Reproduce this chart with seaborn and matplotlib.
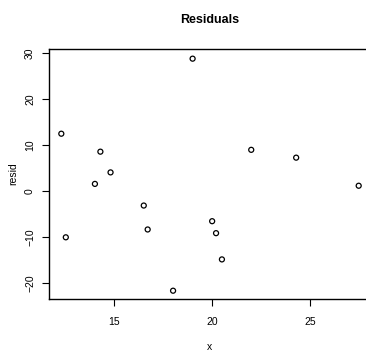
import matplotlib
matplotlib.use("Agg")
import matplotlib.pyplot as plt
import seaborn as sns
import pandas as pd

x_vals = [12.28, 12.51, 14.0, 14.28, 14.8, 16.5, 16.7, 18.0, 19.0, 20.0, 20.2, 20.5, 22.0, 24.3, 27.5]
resid_vals = [12.5, -10.0, 1.6, 8.6, 4.1, -3.1, -8.3, -21.6, 28.8, -6.5, -9.1, -14.8, 9.0, 7.3, 1.2]
x_ticks = [15, 20, 25]
y_ticks = [-20, -10, 0, 10, 20, 30]

sns.set_style("ticks")
plt.rcParams['font.family'] = ['Liberation Sans', 'DejaVu Sans']
plt.rcParams['text.color'] = 'black'
plt.rcParams['axes.labelcolor'] = 'black'
plt.rcParams['xtick.color'] = 'black'
plt.rcParams['ytick.color'] = 'black'

df = pd.DataFrame({"x": x_vals, "resid": resid_vals})

fig = plt.figure(figsize=(3.66, 3.55), dpi=100)
W, H = 366, 355
left, right, top, bottom = 49, 371, 49, 299
ax = fig.add_axes([left / W, (H - bottom) / H, (right - left) / W, (bottom - top) / H])

sns.scatterplot(data=df, x="x", y="resid", ax=ax, marker="o", s=13,
                facecolors="none", edgecolor="black", linewidth=0.9)

ax.set_xlim(11.65, 28.13)
ax.set_ylim(-23.4, 30.9)
ax.set_xticks(x_ticks)
ax.set_yticks(y_ticks)
ax.set_xticklabels([str(t) for t in x_ticks], fontsize=7.5, color='black')
ax.set_yticklabels([str(t).replace('-', '\u2212') for t in y_ticks], fontsize=7.5,
                   rotation=90, va='center', color='black')
ax.tick_params(axis='both', length=5, width=0.8, color='black', labelcolor='black')
ax.tick_params(axis='x', pad=8)
ax.tick_params(axis='y', pad=5)
for s in ax.spines.values():
    s.set_linewidth(1.0)
    s.set_color('black')
ax.set_xlabel("x", fontsize=7.5, labelpad=11, color='black')
ax.set_ylabel("resid", fontsize=7.5, labelpad=5, color='black')
fig.text((left + right) / 2 / W, 1 - 20 / H, "Residuals", ha='center', va='center',
         fontsize=9, fontweight='bold', color='black')

fig.savefig("out.png", dpi=100)
